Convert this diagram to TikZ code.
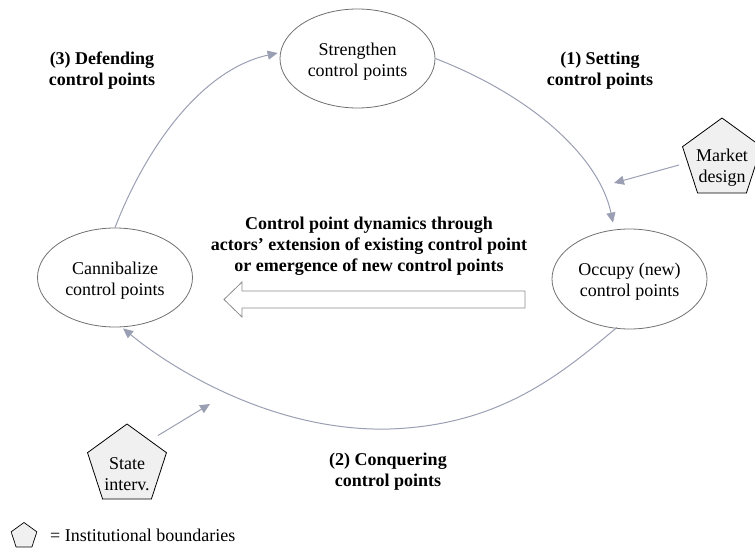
\documentclass[tikz,border=0pt]{standalone}
\usepackage{fontspec}
\setmainfont{Liberation Serif}
\usetikzlibrary{shapes.geometric,arrows.meta}
\definecolor{ringgray}{HTML}{707070}
\definecolor{linkblue}{HTML}{9A9FB3}
\definecolor{instfill}{HTML}{F0F0F0}
\definecolor{flowgray}{HTML}{8C8C8C}
\begin{document}
\begin{tikzpicture}[x=1pt,y=-1pt,
  font=\fontsize{18}{21}\selectfont,
  stage/.style={ellipse, draw=ringgray, line width=0.8pt, minimum width=155pt,
    minimum height=99pt, inner sep=0pt},
  inst/.style={regular polygon, regular polygon sides=5, draw=black, fill=instfill,
    line width=0.8pt, inner sep=0pt, minimum size=83pt},
  caption/.style={align=center, inner sep=0pt},
  phase/.style={caption, font=\fontsize{18}{21}\selectfont\bfseries},
  link/.style={draw=linkblue, line width=1pt, -{Triangle[length=10pt,width=9pt]}},
  flow/.style={draw=flowgray, line width=0.8pt, fill=white}
]
\useasboundingbox (0,0) rectangle (755,551);

% the three stages of the cycle
\node[stage] (strengthen) at (357.5,58.5) {};
\node[caption] (strengthenText) at ([yshift=-3.5pt]strengthen.center) {Strengthen\\control points};
\node[stage, minimum height=100pt] (occupy) at (629.5,279) {};
\node[caption] (occupyText) at ([yshift=-3pt]occupy.center) {Occupy (new)\\control points};
\node[stage] (cannibalize) at (115,277.5) {};
\node[caption] (cannibalizeText) at ([yshift=-3pt]cannibalize.center) {Cannibalize\\control points};

% cycle connectors
\draw[link] (strengthen.east) .. controls (537,98) and (600,160) .. ([shift={(-16.5,-6)}]occupy.north);
\draw[link] ([shift={(-12.5,-2)}]occupy.south) .. controls (560,375) and (500,425) .. (390,429)
  .. controls (280,432) and (180,375) .. ([shift={(8,1)}]cannibalize.south);
\draw[link] (cannibalize.north) .. controls (145,150) and (200,70) .. ([shift={(-2,-5.5)}]strengthen.west);

% phase labels
\node[phase] (defending) at (102,70.5) {(3) Defending\\control points};
\node[phase] (setting) at (600,70.5) {(1) Setting\\control points};
\node[phase] (conquering) at (388,472) {(2) Conquering\\control points};

% central dynamics arrow
\node[phase] (dynamics) at (369,246.5) {Control point dynamics through\\actors’ extension of existing control point\\or emergence of new control points};
\draw[flow] (525,291) -- (242,291) -- (242,282) -- (224,299.5) -- (242,317) -- (242,308) -- (525,308) -- cycle;

% institutional boundaries
\node[inst] (market) at (722,159.5) {};
\node[caption] (marketText) at ([yshift=-8.5pt]market.center) {Market\\design};
\coordinate (marketTip) at (614,183);
\draw[link] ([shift={(-43,5.5)}]market.center) -- (marketTip);

\node[inst] (state) at (127,465.5) {};
\node[caption] (stateText) at ([yshift=-8.5pt]state.center) {State\\interv.};
\coordinate (stateTip) at (210,404);
\draw[link] ([shift={(31,-30)}]state.center) -- (stateTip);

% legend
\node[inst, minimum size=27pt, line width=0.7pt] (legendShape) at (24,536) {};
\node[caption, anchor=west] (legendText) at (50,535) {= Institutional boundaries};
\end{tikzpicture}
\end{document}
